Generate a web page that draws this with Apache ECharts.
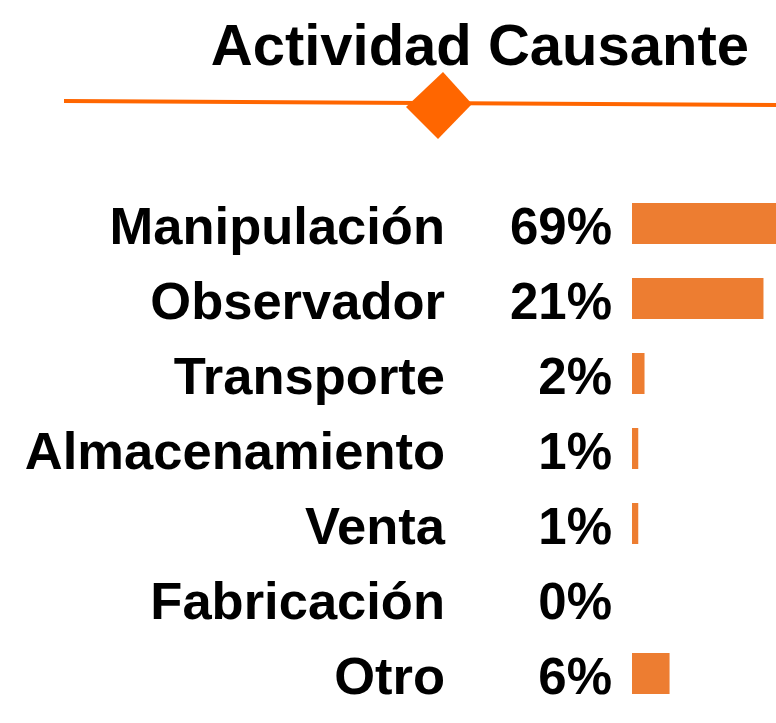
<!DOCTYPE html>
<html>
<head>
<meta charset="utf-8">
<title>Actividad Causante</title>
<script src="https://cdn.jsdelivr.net/npm/echarts@6/dist/echarts.min.js"></script>
<style>
  html, body { margin: 0; padding: 0; background: #fff; }
  #chart { width: 776px; height: 723px; }
</style>
</head>
<body>
<div id="chart"></div>
<script>
// data
var categories = ['Manipulación', 'Observador', 'Transporte', 'Almacenamiento', 'Venta', 'Fabricación', 'Otro'];
var percents = [69, 21, 2, 1, 1, 0, 6];

var barColor = '#ED7D31';
var accent = '#FF6600';
var font = '"Liberation Sans", Arial, sans-serif';

var chart = echarts.init(document.getElementById('chart'));

chart.setOption({
  animation: false,
  backgroundColor: '#fff',
  title: {
    text: 'Actividad Causante',
    right: 22,
    top: 15,
    textStyle: { fontSize: 58, fontWeight: 'bold', fontFamily: font, color: '#000', lineHeight: 58 }
  },
  // orange rule with the diamond under the title
  graphic: [
    {
      type: 'polyline',
      shape: { points: [[64, 101], [776, 105]] },
      style: { stroke: accent, lineWidth: 4, fill: null }
    },
    {
      type: 'polygon',
      shape: { points: [[443, 72], [472, 104], [438, 139], [406, 107]] },
      style: { fill: accent }
    }
  ],
  // the plot runs off the right edge, so the long bar is cut there
  grid: { left: 632, right: 0, top: 186, bottom: 12, containLabel: false },
  xAxis: {
    type: 'value',
    min: 0,
    max: 23,
    show: false
  },
  yAxis: {
    type: 'category',
    data: categories,
    inverse: true,
    axisLine: { show: false },
    axisTick: { show: false },
    splitLine: { show: false },
    axisLabel: {
      margin: 20,
      padding: [12, 0, 0, 0],
      formatter: function (v, i) {
        return '{n|' + v + '}{p|' + percents[i] + '%}';
      },
      rich: {
        n: { fontSize: 52.5, fontWeight: 'bold', fontFamily: font, color: '#000' },
        p: { fontSize: 51, fontWeight: 'bold', fontFamily: font, color: '#000', width: 167, align: 'right' }
      }
    }
  },
  series: [{
    type: 'bar',
    data: percents,
    barWidth: 41,
    clip: true,
    itemStyle: { color: barColor },
    silent: true
  }]
});
</script>
</body>
</html>
